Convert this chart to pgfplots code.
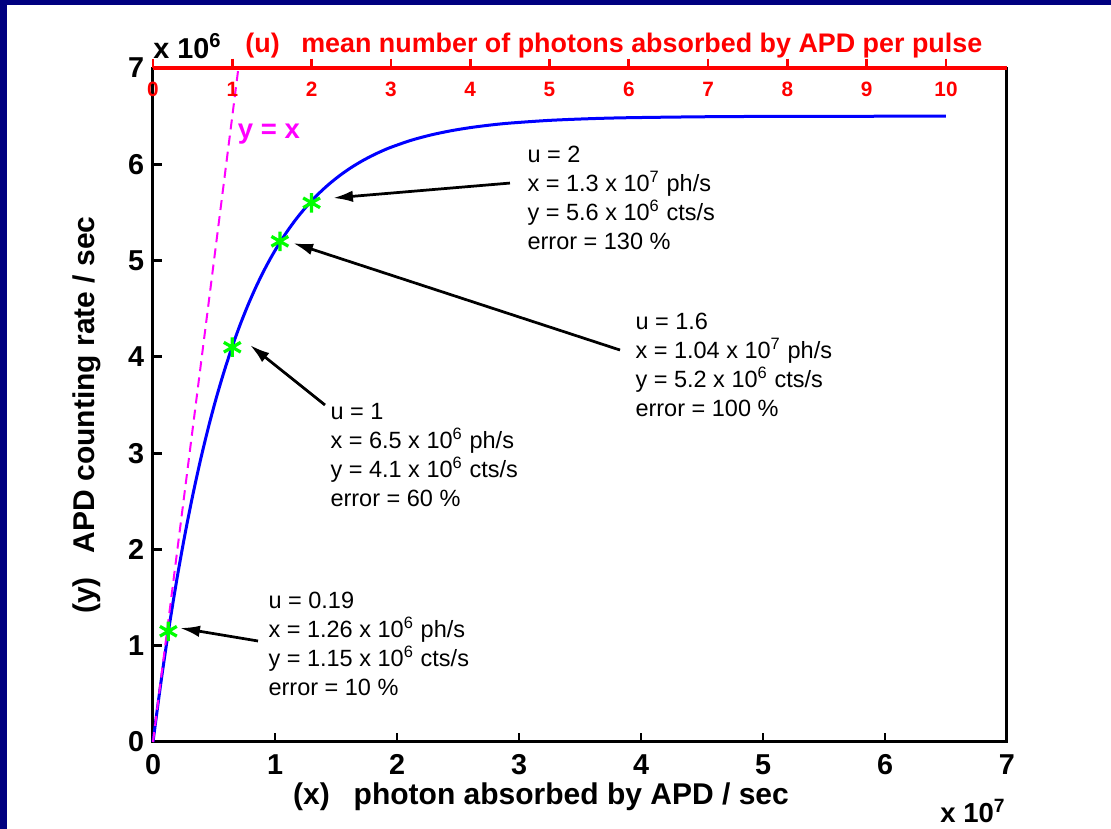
\documentclass[border=0pt]{standalone}
\usepackage{fontspec}
\setmainfont{Liberation Sans}
\usepackage{pgfplots}
\pgfplotsset{compat=1.18}
\usetikzlibrary{arrows.meta}
\definecolor{navyfr}{RGB}{0,0,128}
\definecolor{mag}{RGB}{255,0,255}
\definecolor{grn}{RGB}{0,255,0}

\begin{document}
\begin{tikzpicture}
% frame: 1 px = 0.4 pt, axis origin at (153,742) px
\fill[navyfr] (-61.2pt,-34.8pt) rectangle (383.2pt,296.8pt);
\fill[white] (-58.4pt,-34.8pt) rectangle (383.2pt,294.8pt);
\useasboundingbox (-61.2pt,-34.8pt) rectangle (383.2pt,296.8pt);

% ===== main axis: x in 1e7 ph/s, y in 1e6 cts/s =====
\begin{axis}[
    at={(0,0)}, anchor=south west,
    scale only axis, width=341.6pt, height=269.6pt,
    xmin=0, xmax=7, ymin=0, ymax=7,
    xtick={0,...,7}, ytick={0,...,7},
    xtick pos=bottom, ytick pos=left,
    tick align=inside,
    major tick length=3.5pt,
    axis line style={line width=1.2pt},
    tick style={line width=1.1pt, black},
    scaled ticks=false,
    /pgf/number format/assume math mode=true,
    x tick label style={font=\fontsize{11.5}{11.5}\selectfont\bfseries, yshift=-1.5pt},
    y tick label style={font=\fontsize{11.5}{11.5}\selectfont\bfseries},
    clip=false,
]
% counting rate curve
\addplot[blue, line width=1.2pt, smooth] coordinates {
    (0,0) (0.065,0.6186) (0.13,1.1783) (0.195,1.6847) (0.26,2.1429)
    (0.325,2.5576) (0.39,2.9327) (0.455,3.2722) (0.52,3.5794) (0.585,3.8573)
    (0.65,4.1088) (0.715,4.3363) (0.78,4.5422) (0.845,4.7285) (0.91,4.8971)
    (0.975,5.0497) (1.04,5.1877) (1.105,5.3126) (1.17,5.4256) (1.235,5.5278)
    (1.3,5.6203) (1.38125,5.7237) (1.4625,5.8149) (1.54375,5.8954) (1.625,5.9665)
    (1.70625,6.0291) (1.7875,6.0845) (1.86875,6.1333) (1.95,6.1764) (2.1125,6.2480)
    (2.275,6.3037) (2.4375,6.3471) (2.6,6.3809) (2.7625,6.4073) (2.925,6.4278)
    (3.25,6.4562) (3.575,6.4734) (3.9,6.4839) (4.55,6.4941) (5.2,6.4978) (6.5,6.4997)
};
% y = x
\addplot[mag, line width=0.8pt, dash pattern=on 4pt off 2.5pt] coordinates {(0,0) (0.7,7)};
% marked points
\addplot[only marks, mark=asterisk, grn, mark size=3.9pt, line width=1.3pt]
    coordinates {(0.126,1.15) (0.65,4.1) (1.04,5.2) (1.3,5.6)};

\node[mag, font=\fontsize{11}{11}\selectfont\bfseries] at (axis cs:0.95,6.31) {y = x};

% arrows
\draw[-{Latex[length=8pt,width=4.6pt]}, line width=1.1pt] (axis cs:0.861,1.049) -- (axis cs:0.221,1.184);
\draw[-{Latex[length=8pt,width=4.6pt]}, line width=1.1pt] (axis cs:1.410,3.500) -- (axis cs:0.795,4.123);
\draw[-{Latex[length=8pt,width=4.6pt]}, line width=1.1pt] (axis cs:3.828,4.071) -- (axis cs:1.148,5.182);
\draw[-{Latex[length=8pt,width=4.6pt]}, line width=1.1pt] (axis cs:2.926,5.805) -- (axis cs:1.475,5.650);

% annotations
\tikzset{ann/.style={anchor=north west, align=left, inner sep=0pt,
    font=\fontsize{9.4}{11.6}\selectfont}}
\node[ann] at (axis cs:0.943,1.558)
    {u = 0.19\\x = 1.26 x 10\textsuperscript{6} ph/s\\y = 1.15 x 10\textsuperscript{6} cts/s\\error = 10 \%};
\node[ann] at (axis cs:1.451,3.521)
    {u = 1\\x = 6.5 x 10\textsuperscript{6} ph/s\\y = 4.1 x 10\textsuperscript{6} cts/s\\error = 60 \%};
\node[ann] at (axis cs:3.951,4.455)
    {u = 1.6\\x = 1.04 x 10\textsuperscript{7} ph/s\\y = 5.2 x 10\textsuperscript{6} cts/s\\error = 100 \%};
\node[ann] at (axis cs:3.066,6.190)
    {u = 2\\x = 1.3 x 10\textsuperscript{7} ph/s\\y = 5.6 x 10\textsuperscript{6} cts/s\\error = 130 \%};

% axis labels and multipliers
\node[font=\fontsize{12}{12}\selectfont\bfseries] at (axis cs:3.18,-0.571)
    {(x)\hspace{0.8em}photon absorbed by APD / sec};
\node[rotate=90, font=\fontsize{12}{12}\selectfont\bfseries] at (axis cs:-0.541,3.396)
    {(y)\hspace{0.8em}APD counting rate / sec};
\node[anchor=base west, inner sep=0pt, font=\fontsize{11.5}{11.5}\selectfont\bfseries]
    at (axis cs:0,7.1) {x 10\textsuperscript{6}};
\node[anchor=base west, inner sep=0pt, font=\fontsize{11}{11}\selectfont\bfseries]
    at (axis cs:6.45,-0.84) {x 10\textsuperscript{7}};
\node[anchor=base west, inner sep=0pt, red, font=\fontsize{10.75}{10.75}\selectfont\bfseries]
    at (axis cs:0.754,7.166) {(u)\hspace{0.8em}mean number of photons absorbed by APD per pulse};
\end{axis}

% ===== top axis: u = x / 6.5e6 =====
\begin{axis}[
    at={(0,0)}, anchor=south west,
    scale only axis, width=341.6pt, height=269.6pt,
    xmin=0, xmax=10.769, ymin=0, ymax=7,
    axis x line*=top, axis y line=none,
    xtick={0,...,10},
    tick align=outside,
    major tick length=3.7pt,
    x axis line style={red, line width=1.3pt, -},
    xtick style={red, line width=1.1pt},
    /pgf/number format/assume math mode=true,
    xticklabel style={red, font=\fontsize{8.3}{8.3}\selectfont\bfseries, anchor=north, yshift=-5.7pt},
]
\end{axis}
\end{tikzpicture}
\end{document}
